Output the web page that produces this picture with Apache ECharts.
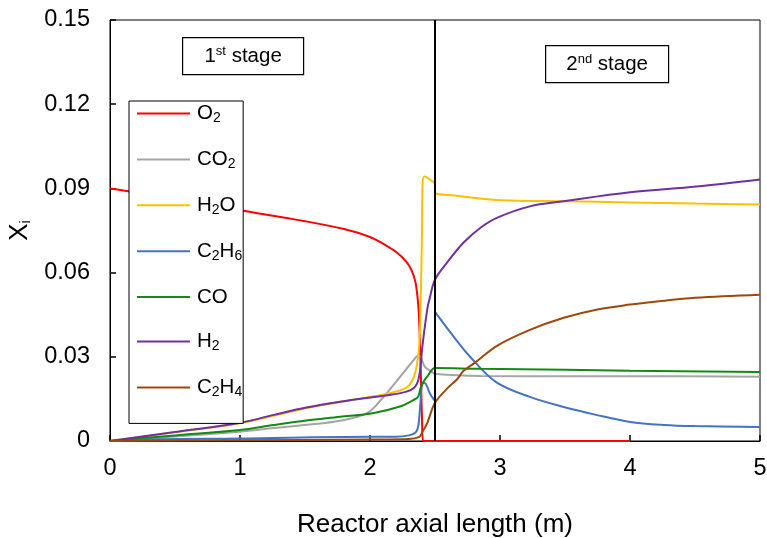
<!DOCTYPE html>
<html>
<head>
<meta charset="utf-8">
<script src="https://cdn.jsdelivr.net/npm/echarts@6/dist/echarts.min.js"></script>
<style>
  html, body { margin: 0; padding: 0; background: #fff; }
  #chart { width: 767px; height: 538px; }
</style>
</head>
<body>
<div id="chart"></div>
<script>
// Mole fraction profiles along the reactor axis, [length (m), X_i]
const o2 = [[0,0.0900],[0.14,0.0890],[0.5,0.0862],[1.0,0.0822],[1.5,0.0783],[1.8,0.0755],[2.0,0.0727],[2.1,0.0703],[2.2,0.0674],[2.28,0.0638],[2.32,0.0608],[2.35,0.0565],[2.37,0.049],[2.38,0.041],[2.39,0.026],[2.40,0.008],[2.41,0.0],[2.5,0.0],[3.0,0.0],[4.0,0.0]];
const co2 = [[0,0],[0.5,0.0016],[1.0,0.0033],[1.26,0.0046],[1.5,0.0057],[1.77,0.0072],[1.98,0.0100],[2.1,0.0155],[2.23,0.0228],[2.33,0.0285],[2.37,0.0304],[2.39,0.0300],[2.42,0.0266],[2.47,0.0247],[2.51,0.0239],[2.85,0.0232],[3.5,0.0231],[4.0,0.0231],[5.0,0.0229]];
const h2o = [[0,0],[0.5,0.0031],[1.0,0.0063],[1.5,0.0116],[2.0,0.0157],[2.15,0.0170],[2.28,0.0190],[2.33,0.0220],[2.36,0.0270],[2.38,0.0350],[2.39,0.0500],[2.40,0.0750],[2.405,0.0920],[2.42,0.0942],[2.45,0.0935],[2.5,0.0914],[2.5,0.0886],[2.65,0.0875],[3.0,0.0858],[3.5,0.0854],[4.0,0.0850],[4.5,0.0846],[5.0,0.0843]];
const c2h6 = [[0,0],[0.3,0.0006],[1.0,0.0009],[2.0,0.0015],[2.2,0.0015],[2.3,0.0020],[2.35,0.0030],[2.37,0.0050],[2.38,0.0090],[2.39,0.0150],[2.40,0.0200],[2.42,0.0207],[2.46,0.0170],[2.49,0.0148],[2.5,0.0145],[2.5,0.0460],[2.62,0.0386],[2.77,0.0300],[2.97,0.0210],[3.23,0.0157],[3.49,0.0121],[3.74,0.0093],[4.0,0.0068],[4.26,0.0057],[4.5,0.0053],[5.0,0.0050]];
const co = [[0,0],[0.5,0.0020],[1.0,0.0039],[1.26,0.0057],[1.51,0.0073],[1.77,0.0086],[2.03,0.0100],[2.23,0.0123],[2.33,0.0145],[2.37,0.0158],[2.39,0.0190],[2.41,0.0210],[2.44,0.0229],[2.5,0.0260],[2.85,0.0257],[3.5,0.0254],[4.0,0.0250],[5.0,0.0246]];
const h2 = [[0,0],[0.5,0.0032],[1.0,0.0065],[1.26,0.0093],[1.51,0.0119],[1.77,0.0140],[2.03,0.0157],[2.15,0.0164],[2.28,0.0176],[2.34,0.0190],[2.37,0.0215],[2.39,0.0270],[2.40,0.0325],[2.44,0.0468],[2.46,0.0510],[2.5,0.0575],[2.6,0.0640],[2.72,0.0707],[2.85,0.0760],[2.98,0.0796],[3.23,0.0836],[3.49,0.0854],[4.0,0.0886],[4.51,0.0907],[5.0,0.0932]];
const c2h4 = [[0,0],[1.0,0.0003],[2.0,0.0005],[2.3,0.0007],[2.38,0.0015],[2.40,0.0030],[2.44,0.0064],[2.5,0.0136],[2.6,0.0190],[2.67,0.0220],[2.72,0.0250],[2.81,0.0280],[2.98,0.0340],[3.23,0.0396],[3.49,0.0439],[3.74,0.0468],[4.0,0.0486],[4.26,0.0500],[4.5,0.0510],[5.0,0.0521]];

const speciesNames = ['O2', 'CO2', 'H2O', 'C2H6', 'CO', 'H2', 'C2H4'];
const speciesData = [o2, co2, h2o, c2h6, co, h2, c2h4];
const speciesColors = ['#FF0000', '#A5A5A5', '#FFC000', '#4472C4', '#138A13', '#7030A0', '#9E480E'];
const stageBoundary = 2.5;
const xTicks = [0, 5, 1];
const yTicks = [0, 0.15, 0.03];

const FONT = 'Liberation Sans, Arial, sans-serif';

// turn "C2H6" into rich text with subscripted digits
function subscriptDigits(name) {
  return name.replace(/(\d+)/g, '{sub|$1}');
}

const series = speciesNames.map((name, i) => ({
  name: name,
  type: 'line',
  data: speciesData[i],
  symbol: 'none',
  smooth: 0.35,
  lineStyle: { color: speciesColors[i], width: 2 },
  itemStyle: { color: speciesColors[i] },
  z: 3
}));

// stage divider
series[0].markLine = {
  silent: true,
  symbol: 'none',
  label: { show: false },
  lineStyle: { color: '#000', width: 2, type: 'solid' },
  data: [{ xAxis: stageBoundary }]
};

function stageBox(left, top, w, h, main, sup) {
  return {
    type: 'group',
    left: left, top: top,
    children: [
      { type: 'rect', shape: { x: 0, y: 0, width: w, height: h },
        style: { fill: '#fff', stroke: '#000', lineWidth: 1.2 } },
      { type: 'text', x: w / 2, y: h / 2,
        style: {
          text: '{n|' + main + '}{s|' + sup + '}{n| stage}',
          align: 'center', verticalAlign: 'middle',
          rich: {
            n: { fontFamily: FONT, fontSize: 20.5, fill: '#000' },
            s: { fontFamily: FONT, fontSize: 13, fill: '#000', padding: [0, 0, 9, 0] }
          }
        } }
    ]
  };
}

const chart = echarts.init(document.getElementById('chart'), null, { renderer: 'canvas' });
chart.setOption({
  animation: false,
  backgroundColor: '#fff',
  grid: { left: 110, right: 7, top: 20, bottom: 97, outerBoundsMode: 'none', containLabel: false,
    show: true, borderColor: '#000', borderWidth: 1, backgroundColor: 'transparent' },
  xAxis: {
    type: 'value', min: xTicks[0], max: xTicks[1], interval: xTicks[2],
    name: 'Reactor axial length (m)', nameLocation: 'middle', nameGap: 71,
    nameTextStyle: { fontFamily: FONT, fontSize: 26, color: '#000' },
    axisLine: { lineStyle: { color: '#000', width: 1 } },
    axisTick: { inside: true, length: 6, lineStyle: { color: '#000', width: 1.5 } },
    axisLabel: { fontFamily: FONT, fontSize: 23.5, color: '#000', margin: 16 },
    splitLine: { show: false }
  },
  yAxis: {
    type: 'value', min: yTicks[0], max: yTicks[1], interval: yTicks[2],
    name: 'X{sub|i}', nameLocation: 'middle', nameGap: 69, nameRotate: 90,
    nameTextStyle: { fontFamily: FONT, fontSize: 26, color: '#000',
      rich: { sub: { fontFamily: FONT, fontSize: 15, color: '#000', padding: [12, 0, 0, 0] } } },
    axisLine: { show: true, lineStyle: { color: '#000', width: 1 } },
    axisTick: { show: true, inside: true, length: 6, lineStyle: { color: '#000', width: 1.5 } },
    axisLabel: { fontFamily: FONT, fontSize: 23.5, color: '#000', margin: 20,
      formatter: v => (v === 0 ? '0' : v.toFixed(2)) },
    splitLine: { show: false }
  },
  legend: {
    orient: 'vertical',
    left: 129, top: 101,
    data: speciesNames,
    backgroundColor: '#fff',
    borderColor: '#000', borderWidth: 1,
    padding: [2, 1, 24, 8],
    itemWidth: 53, itemHeight: 2, itemGap: 23.4,
    icon: 'rect',
    formatter: name => subscriptDigits(name),
    textStyle: {
      fontFamily: FONT, fontSize: 20.5, color: '#000', padding: [0, 0, 0, 2],
      rich: { sub: { fontFamily: FONT, fontSize: 14, color: '#000', padding: [10, 0, 0, 0] } }
    },
    selectedMode: false
  },
  graphic: [
    stageBox(182, 37, 121, 37, '1', 'st'),
    stageBox(545, 45, 123, 37, '2', 'nd')
  ],
  series: series
});
</script>
</body>
</html>
